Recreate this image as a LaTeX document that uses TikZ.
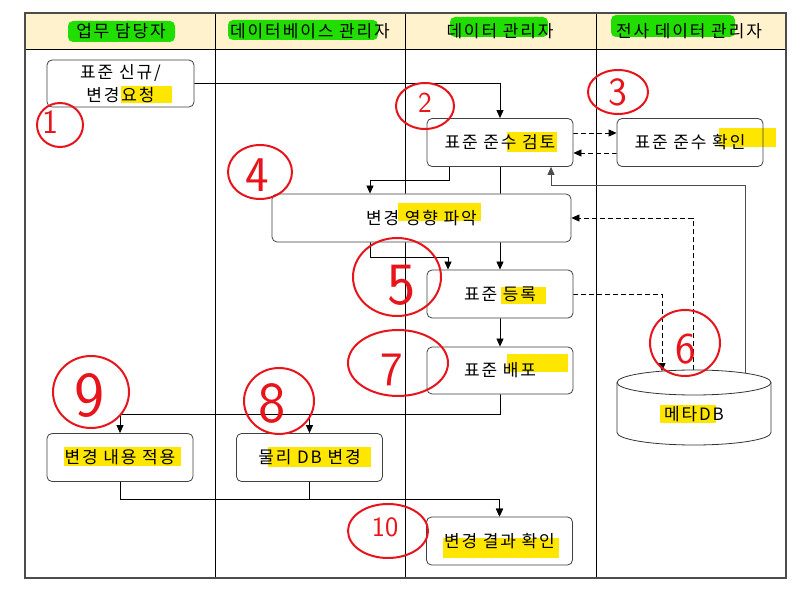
\documentclass[tikz,border=0pt]{standalone}
\usepackage{fontspec}
\setmainfont{Noto Sans CJK KR}
\usetikzlibrary{arrows.meta,calc}
\definecolor{hdrfill}{HTML}{FFF2CC}
\definecolor{hlgreen}{HTML}{22DD00}
\definecolor{hlyellow}{HTML}{FFE600}
\definecolor{annocol}{HTML}{E8141B}
\definecolor{boxline}{HTML}{404040}
\pgfdeclarelayer{lanes}
\pgfdeclarelayer{conns}
\pgfdeclarelayer{fills}
\pgfdeclarelayer{hl}
\pgfsetlayers{lanes,conns,fills,hl,main}
\newcommand\kfont{\fontsize{17}{23}\selectfont\addfontfeatures{LetterSpace=11}}
\newcommand\digf[1]{\sffamily\fontsize{#1}{#1}\selectfont}
\begin{document}
\begin{tikzpicture}[x=1pt,y=-1pt,
  box/.style={draw=boxline, line width=0.8pt, rounded corners=5pt, align=center,
              inner sep=2pt, font=\kfont, minimum width=146pt, minimum height=48pt},
  hdr/.style={font=\kfont, inner sep=0pt},
  conn/.style={draw=black, line width=0.8pt, -{Triangle[length=8pt,width=7pt]}},
  dconn/.style={conn, dash pattern=on 5pt off 3pt},
  hlg/.style={fill=hlgreen, rounded corners=5pt},
  hly/.style={fill=hlyellow},
  annoc/.style={draw=annocol, line width=2pt},
  annot/.style={text=annocol, inner sep=0pt}]
\useasboundingbox (0,0) rectangle (804,596);

% lanes
\begin{pgfonlayer}{lanes}
  \fill[white] (0,0) rectangle (804,596);
  \fill[hdrfill] (25,13) rectangle (786,49);
  \draw[line width=0.8pt] (25,49) -- (786,49);
  \foreach \x in {215,405,596} \draw[line width=0.8pt] (\x,13) -- (\x,578);
  \draw[line width=1.4pt, draw=black!70] (25,13) rectangle (786,578);
\end{pgfonlayer}

% headers
\node[hdr] (h1) at (121,31) {업무 담당자};
\node[hdr] (h2) at (310,31) {데이터베이스 관리자};
\node[hdr] (h3) at (500,31) {데이터 관리자};
\node[hdr] (h4) at (689,31) {전사 데이터 관리자};

% boxes
\node[box, minimum width=147pt, minimum height=47pt] (req) at (120.5,83.5) {표준 신규/\\변경요청};
\node[box] (review) at (500,142.5) {표준 준수 검토};
\node[box] (confirm) at (690,142.5) {표준 준수 확인};
\node[box, minimum width=299pt] (impact) at (421.5,218) {변경 영향 파악};
\node[box] (register) at (500,294) {표준 등록};
\node[box, minimum height=47pt] (deploy) at (500,370.5) {표준 배포};
\node[box] (apply) at (120,457.5) {변경 내용 적용};
\node[box] (physdb) at (309.5,457.5) {물리 DB 변경};
\node[box] (result) at (499.5,541) {변경 결과 확인};

% database cylinder
\node[font=\kfont, inner sep=0pt] (db) at (694,414) {메타DB};
\draw[line width=0.8pt, draw=black!80] (617,382.5) -- (617,432.5)
  arc[start angle=180, end angle=360, x radius=77pt, y radius=12.5pt] -- (771,382.5);
\draw[line width=0.8pt, draw=black!80] (694,382.5) ellipse [x radius=77pt, y radius=12.5pt];
\coordinate (dbin) at (662,371.1);
\coordinate (dbo1) at (693,370.2);
\coordinate (dbo2) at (745,373.1);

% white fills of boxes
\begin{pgfonlayer}{fills}
  \foreach \n in {req,review,confirm,impact,register,deploy,apply,physdb,result}
    \fill[white, rounded corners=5pt] (\n.south west) rectangle (\n.north east);
  \fill[white] (617,382.5) -- (617,432.5)
    arc[start angle=180, end angle=360, x radius=77pt, y radius=12.5pt] -- (771,382.5)
    arc[start angle=0, end angle=180, x radius=77pt, y radius=12.5pt] -- cycle;
\end{pgfonlayer}

% connectors
\begin{pgfonlayer}{conns}
  \draw[conn] (req.east) -| (review.north);
  \draw[dconn] ([yshift=9.5pt]review.east) -- ([yshift=9.5pt]confirm.west);
  \draw[dconn] ([yshift=-10.5pt]confirm.west) -- ([yshift=-10.5pt]review.east);
  \draw[conn] ([xshift=-51pt]review.south) -- ++(0,14) -| ([xshift=-51.5pt]impact.north);
  \draw[conn] (review.south) -- (register.north);
  \draw[conn] ([xshift=-51.5pt]impact.south) -- ++(0,15) -| ([xshift=-52pt]register.north);
  \draw[conn, draw=black!70] (dbo2) -- ++(0,-188) -| ([xshift=51pt]review.south);
  \draw[dconn] (dbo1) |- (impact.east);
  \draw[dconn] (register.east) -| (dbin);
  \draw[conn] (register.south) -- (deploy.north);
  \draw[conn] (deploy.south) -- ++(0,20) -| (apply.north);
  \draw[conn] (deploy.south) -- ++(0,20) -| (physdb.north);
  \draw[conn] (apply.south) -- ++(0,17) -| (result.north);
  \draw[conn] (physdb.south) -- ++(0,17) -| (result.north);
\end{pgfonlayer}

% highlights
\begin{pgfonlayer}{hl}
  \fill[hlg] (68,21) rectangle (175,42);
  \fill[hlg] (228,20) rectangle (378,40);
  \fill[hlg] (450,17) rectangle (548,37);
  \fill[hlg] (611,15) rectangle (735,37);
  \fill[hly] (121,86) rectangle (172,103);
  \fill[hly] (507,132) rectangle (557,152);
  \fill[hly] (719,128) rectangle (776,147);
  \fill[hly] (398,203) rectangle (481,221);
  \fill[hly] (501,287) rectangle (546,304);
  \fill[hly] (507,354) rectangle (568,372);
  \fill[hly] (660,405) rectangle (716,423);
  \fill[hly] (64,447) rectangle (181,466);
  \fill[hly] (268,447) rectangle (371,467);
  \fill[hly] (443,538) rectangle (559,558);
\end{pgfonlayer}

% red annotations
\draw[annoc] (60,125) ellipse [x radius=23pt, y radius=22pt];
\node[annot, font=\digf{34}] (n1) at (50,122) {1};
\draw[annoc] (425,106) ellipse [x radius=29pt, y radius=23pt];
\node[annot, font=\digf{29}] (n2) at (425,103) {2};
\draw[annoc] (618,92) ellipse [x radius=30pt, y radius=22pt];
\node[annot, font=\digf{40}] (n3) at (618,92) {3};
\draw[annoc] (260,172) ellipse [x radius=32pt, y radius=27pt];
\node[annot, font=\digf{50}] (n4) at (257,175) {4};
\draw[annoc] (397,277) ellipse [x radius=44pt, y radius=39pt];
\node[annot, font=\digf{60}] (n5) at (402,285) {5};
\draw[annoc] (685,343) ellipse [x radius=35pt, y radius=33pt];
\node[annot, font=\digf{44}] (n6) at (686,349) {6};
\draw[annoc] (398,363) ellipse [x radius=50pt, y radius=33pt];
\node[annot, font=\digf{48}] (n7) at (392,370) {7};
\draw[annoc] (279,401) ellipse [x radius=35pt, y radius=33pt];
\node[annot, font=\digf{58}] (n8) at (272,403) {8};
\draw[annoc] (91,392) ellipse [x radius=38pt, y radius=36pt];
\node[annot, font=\digf{64}] (n9) at (90,396) {9};
\draw[annoc] (388,531) ellipse [x radius=40pt, y radius=27pt];
\node[annot, font=\digf{28}] (n10) at (385,527) {10};
\end{tikzpicture}
\end{document}
